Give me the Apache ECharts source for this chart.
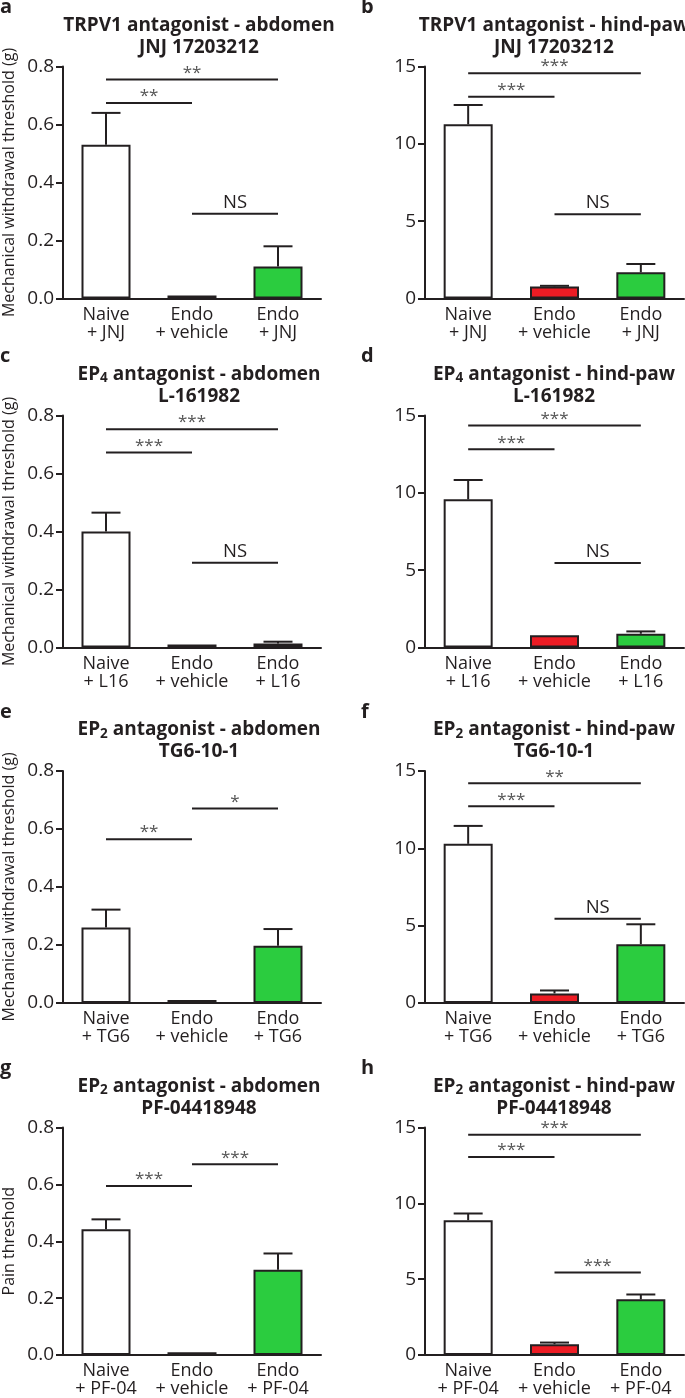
<!DOCTYPE html>
<html><head><meta charset="utf-8">
<script src="https://cdn.jsdelivr.net/npm/echarts@6/dist/echarts.min.js"></script>
<style>html,body{margin:0;padding:0;background:#fff}#chart{width:685px;height:1398px}</style>
</head><body><div id="chart"></div>
<script>
// ---------- DATA ----------
const catsJNJ = ['Naive\n+ JNJ', 'Endo\n+ vehicle', 'Endo\n+ JNJ'];
const catsL16 = ['Naive\n+ L16', 'Endo\n+ vehicle', 'Endo\n+ L16'];
const catsTG6 = ['Naive\n+ TG6', 'Endo\n+ vehicle', 'Endo\n+ TG6'];
const catsPF = ['Naive\n+ PF-04', 'Endo\n+ vehicle', 'Endo\n+ PF-04'];

const titleA = 'TRPV1 antagonist - abdomen\nJNJ 17203212';
const titleB = 'TRPV1 antagonist - hind-paw\nJNJ 17203212';
const titleC = 'EP{sub|4} antagonist - abdomen\nL-161982';
const titleD = 'EP{sub|4} antagonist - hind-paw\nL-161982';
const titleE = 'EP{sub|2} antagonist - abdomen\nTG6-10-1';
const titleF = 'EP{sub|2} antagonist - hind-paw\nTG6-10-1';
const titleG = 'EP{sub|2} antagonist - abdomen\nPF-04418948';
const titleH = 'EP{sub|2} antagonist - hind-paw\nPF-04418948';

const yNameMech = 'Mechanical withdrawal threshold (g)';
const yNamePain = 'Pain threshold';

const valuesA = [0.53, 0.01, 0.11];    const errorsA = [0.11, 0, 0.07];
const valuesB = [11.26, 0.78, 1.69];   const errorsB = [1.25, 0.04, 0.54];
const valuesC = [0.40, 0.01, 0.014];   const errorsC = [0.065, 0, 0.006];
const valuesD = [9.58, 0.80, 0.89];    const errorsD = [1.25, 0.03, 0.15];
const valuesE = [0.26, 0.01, 0.197];   const errorsE = [0.062, 0, 0.058];
const valuesF = [10.29, 0.62, 3.80];   const errorsF = [1.16, 0.19, 1.29];
const valuesG = [0.442, 0.01, 0.30];   const errorsG = [0.035, 0, 0.057];
const valuesH = [8.89, 0.71, 3.67];    const errorsH = [0.44, 0.11, 0.32];

// significance brackets: [fromCategory, toCategory, yValue]
const sigA = [[0, 2, 0.755], [0, 1, 0.674], [1, 2, 0.292]];  const sigLabelsA = ['**', '**', 'NS'];
const sigB = [[0, 2, 14.57], [0, 1, 13.05], [1, 2, 5.45]];   const sigLabelsB = ['***', '***', 'NS'];
const sigC = [[0, 2, 0.753], [0, 1, 0.672], [1, 2, 0.292]];  const sigLabelsC = ['***', '***', 'NS'];
const sigD = [[0, 2, 14.35], [0, 1, 12.82], [1, 2, 5.47]];   const sigLabelsD = ['***', '***', 'NS'];
const sigE = [[0, 1, 0.565], [1, 2, 0.671]];                 const sigLabelsE = ['**', '*'];
const sigF = [[0, 2, 14.2], [0, 1, 12.72], [1, 2, 5.44]];    const sigLabelsF = ['**', '***', 'NS'];
const sigG = [[0, 1, 0.594], [1, 2, 0.671]];                 const sigLabelsG = ['***', '***'];
const sigH = [[0, 2, 14.53], [0, 1, 13.06], [1, 2, 5.44]];   const sigLabelsH = ['***', '***', '***'];

const abdMax = 0.8, abdInterval = 0.2;
const pawMax = 15, pawInterval = 5;

// ---------- STYLE / LAYOUT ----------
const FONT = '"Open Sans", sans-serif';
const INK = '#231f20';
const barColors = ['#ffffff', '#ed1c24', '#2bcc3f'];
const colLeft = [62, 425];
const plotW = 259, plotH = 232;
const rowTop = [66.5, 415.5, 771, 1127.5];
const titleCenterX = [199, 554];
const labelX = [0, 361];

const panels = [
  {id: 'a', col: 0, row: 0, title: titleA, cats: catsJNJ, vals: valuesA, errs: errorsA, sig: sigA, sigL: sigLabelsA, max: abdMax, iv: abdInterval, dec: 1, yName: yNameMech},
  {id: 'b', col: 1, row: 0, title: titleB, cats: catsJNJ, vals: valuesB, errs: errorsB, sig: sigB, sigL: sigLabelsB, max: pawMax, iv: pawInterval, dec: 0, yName: ''},
  {id: 'c', col: 0, row: 1, title: titleC, cats: catsL16, vals: valuesC, errs: errorsC, sig: sigC, sigL: sigLabelsC, max: abdMax, iv: abdInterval, dec: 1, yName: yNameMech},
  {id: 'd', col: 1, row: 1, title: titleD, cats: catsL16, vals: valuesD, errs: errorsD, sig: sigD, sigL: sigLabelsD, max: pawMax, iv: pawInterval, dec: 0, yName: ''},
  {id: 'e', col: 0, row: 2, title: titleE, cats: catsTG6, vals: valuesE, errs: errorsE, sig: sigE, sigL: sigLabelsE, max: abdMax, iv: abdInterval, dec: 1, yName: yNameMech},
  {id: 'f', col: 1, row: 2, title: titleF, cats: catsTG6, vals: valuesF, errs: errorsF, sig: sigF, sigL: sigLabelsF, max: pawMax, iv: pawInterval, dec: 0, yName: ''},
  {id: 'g', col: 0, row: 3, title: titleG, cats: catsPF, vals: valuesG, errs: errorsG, sig: sigG, sigL: sigLabelsG, max: abdMax, iv: abdInterval, dec: 1, yName: yNamePain},
  {id: 'h', col: 1, row: 3, title: titleH, cats: catsPF, vals: valuesH, errs: errorsH, sig: sigH, sigL: sigLabelsH, max: pawMax, iv: pawInterval, dec: 0, yName: ''}
];

const grid = [], xAxis = [], yAxis = [], series = [], graphic = [];

panels.forEach((p, i) => {
  const left = colLeft[p.col], top = rowTop[p.row];
  grid.push({left: left, top: top, width: plotW, height: plotH, containLabel: false});
  xAxis.push({
    type: 'category', gridIndex: i, data: p.cats,
    axisLine: {lineStyle: {color: INK, width: 2}},
    axisTick: {show: false},
    axisLabel: {color: INK, fontFamily: FONT, fontSize: 18, lineHeight: 18, margin: 7, interval: 0}
  });
  yAxis.push({
    type: 'value', gridIndex: i, min: 0, max: p.max, interval: p.iv,
    splitLine: {show: false},
    axisLine: {show: true, lineStyle: {color: INK, width: 2}},
    axisTick: {show: true, length: 7, lineStyle: {color: INK, width: 2}},
    axisLabel: {color: INK, fontFamily: FONT, fontSize: 19, margin: 9, formatter: v => v.toFixed(p.dec)},
    name: p.yName, nameLocation: 'middle', nameGap: 46, nameRotate: 90,
    nameTextStyle: {color: INK, fontFamily: FONT, fontSize: 16}
  });
  series.push({
    type: 'bar', xAxisIndex: i, yAxisIndex: i, barWidth: 49, z: 3,
    data: p.vals.map((v, j) => ({value: v, itemStyle: {color: barColors[j]}})),
    itemStyle: {borderColor: INK, borderWidth: 2},
    silent: true, animation: false
  });
  series.push({
    type: 'custom', xAxisIndex: i, yAxisIndex: i, animation: false, silent: true,
    encode: {x: 0, y: [1, 2]},
    data: p.vals.map((v, j) => [j, v, v + p.errs[j]]),
    renderItem: (params, api) => {
      const x = api.value(0);
      const lo = api.coord([x, api.value(1)]);
      const hi = api.coord([x, api.value(2)]);
      if (Math.abs(lo[1] - hi[1]) < 0.5) return null;
      return {type: 'group', children: [
        {type: 'line', shape: {x1: lo[0], y1: lo[1], x2: hi[0], y2: hi[1]}, style: {stroke: INK, lineWidth: 2}},
        {type: 'line', shape: {x1: hi[0] - 14.5, y1: hi[1], x2: hi[0] + 14.5, y2: hi[1]}, style: {stroke: INK, lineWidth: 2}}
      ]};
    }
  });
  series.push({
    type: 'custom', xAxisIndex: i, yAxisIndex: i, animation: false, silent: true,
    encode: {x: [0, 1], y: 2},
    data: p.sig,
    renderItem: (params, api) => {
      const a = api.coord([api.value(0), api.value(2)]);
      const b = api.coord([api.value(1), api.value(2)]);
      const lab = p.sigL[params.dataIndex];
      const isNS = lab === 'NS';
      return {type: 'group', children: [
        {type: 'line', shape: {x1: a[0], y1: a[1], x2: b[0], y2: b[1]}, style: {stroke: INK, lineWidth: 2}},
        {type: 'text', x: (a[0] + b[0]) / 2, y: a[1] - (isNS ? 11 : 6.5),
          style: {text: lab, fontFamily: FONT, fontSize: isNS ? 18.5 : 17, fill: isNS ? INK : '#555',
            textAlign: 'center', textVerticalAlign: 'middle'}}
      ]};
    }
  });
  graphic.push({
    type: 'text', x: titleCenterX[p.col], y: top - 52,
    style: {text: p.title, fontFamily: FONT, fontWeight: 'bold', fontSize: 19, lineHeight: 22, fill: INK,
      textAlign: 'center', textVerticalAlign: 'top',
      rich: {sub: {fontFamily: FONT, fontWeight: 'bold', fontSize: 13.5, fill: INK, padding: [8, 0, 0, 0]}}}
  });
  graphic.push({
    type: 'text', x: labelX[p.col], y: top - 59,
    style: {text: p.id, fontFamily: FONT, fontWeight: 'bold', fontSize: 20, fill: INK,
      textAlign: 'left', textVerticalAlign: 'middle'}
  });
});

const chart = echarts.init(document.getElementById('chart'), null, {renderer: 'canvas'});
chart.setOption({animation: false, backgroundColor: '#fff', grid, xAxis, yAxis, series, graphic});
</script></body></html>
